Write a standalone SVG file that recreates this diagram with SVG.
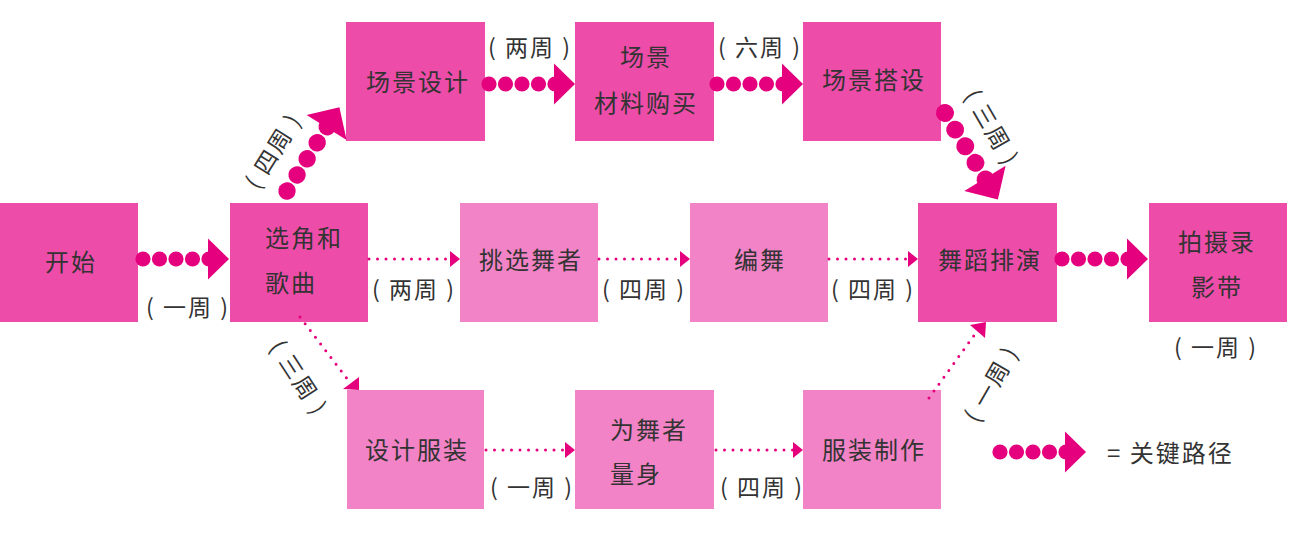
<svg xmlns="http://www.w3.org/2000/svg" xmlns:xlink="http://www.w3.org/1999/xlink" width="1316" height="538" viewBox="0 0 1316 538">
<defs>
<style>
.dk{fill:#EE4CA9}
.lt{fill:#F283C6}
.t{font-family:"Noto Sans CJK SC","Noto Sans",sans-serif;font-size:24px;fill:#333;letter-spacing:2px;dominant-baseline:central}
.m{text-anchor:middle}
.lb{font-family:"Noto Sans CJK SC","Noto Sans",sans-serif;font-size:23px;fill:#333;letter-spacing:2px;dominant-baseline:central;text-anchor:middle}
.dot{stroke:#E5007D;stroke-width:3;stroke-linecap:round;stroke-dasharray:0 8.5;fill:none}
.ah{fill:#E5007D}
</style>
<g id="crit">
<circle cx="0" cy="0" r="7.6" class="ah"/>
<circle cx="16.5" cy="0" r="7.6" class="ah"/>
<circle cx="33" cy="0" r="7.6" class="ah"/>
<circle cx="49.5" cy="0" r="7.6" class="ah"/>
<circle cx="66" cy="0" r="7.6" class="ah"/>
<polygon points="65,-20.5 86,0 65,20.5" class="ah"/>
</g>
</defs>
<rect width="1316" height="538" fill="#fff"/>

<g id="n-start"><rect x="0" y="203" width="138" height="119" class="dk"/><text x="71" y="260" class="t m">开始</text></g>
<g id="n-casting"><rect x="230" y="203" width="138" height="119" class="dk"/><text x="265" y="236" class="t">选角和</text><text x="265" y="281" class="t">歌曲</text></g>
<g id="n-setdesign"><rect x="346" y="22" width="139" height="119" class="dk"/><text x="418" y="80" class="t m">场景设计</text></g>
<g id="n-setbuy"><rect x="575" y="22" width="139" height="119" class="dk"/><text x="646" y="55" class="t m">场景</text><text x="646" y="101" class="t m">材料购买</text></g>
<g id="n-setbuild"><rect x="803" y="22" width="138" height="119" class="dk"/><text x="874" y="78" class="t m">场景搭设</text></g>
<g id="n-dancers"><rect x="460" y="203" width="138" height="119" class="lt"/><text x="531" y="258" class="t m">挑选舞者</text></g>
<g id="n-choreo"><rect x="690" y="203" width="138" height="119" class="lt"/><text x="760" y="258" class="t m">编舞</text></g>
<g id="n-rehearse"><rect x="918" y="203" width="139" height="119" class="dk"/><text x="990" y="258" class="t m">舞蹈排演</text></g>
<g id="n-film"><rect x="1149" y="203" width="138" height="119" class="dk"/><text x="1217" y="240" class="t m">拍摄录</text><text x="1217" y="285" class="t m">影带</text></g>
<g id="n-costdesign"><rect x="347" y="390" width="137" height="119" class="lt"/><text x="417" y="448" class="t m">设计服装</text></g>
<g id="n-measure"><rect x="575" y="390" width="139" height="119" class="lt"/><text x="610" y="428" class="t">为舞者</text><text x="610" y="472" class="t">量身</text></g>
<g id="n-costmake"><rect x="803" y="390" width="138" height="119" class="lt"/><text x="874" y="448" class="t m">服装制作</text></g>

<g id="connectors">
<use xlink:href="#crit" href="#crit" transform="translate(143,259)"/>
<use xlink:href="#crit" href="#crit" transform="translate(489,84)"/>
<use xlink:href="#crit" href="#crit" transform="translate(717,84)"/>
<use xlink:href="#crit" href="#crit" transform="translate(1062,259)"/>
<use xlink:href="#crit" href="#crit" transform="translate(287,191) rotate(-58) scale(1.15)"/>
<use xlink:href="#crit" href="#crit" transform="translate(945,113) rotate(58.6) scale(1.18)"/>

<line x1="369" y1="259" x2="450" y2="259" class="dot"/>
<polygon points="450,251 460,259 450,267" class="ah"/>
<line x1="599" y1="259" x2="680" y2="259" class="dot"/>
<polygon points="680,251 690,259 680,267" class="ah"/>
<line x1="829" y1="259" x2="908" y2="259" class="dot"/>
<polygon points="908,251 918,259 908,267" class="ah"/>
<line x1="486" y1="450" x2="565" y2="450" class="dot"/>
<polygon points="565,442 575,450 565,458" class="ah"/>
<line x1="716" y1="450" x2="793" y2="450" class="dot"/>
<polygon points="793,442 803,450 793,458" class="ah"/>

<line x1="300" y1="317" x2="348" y2="380" class="dot"/>
<polygon points="343,389 359,377 359,390" class="ah"/>
<line x1="929" y1="398" x2="975" y2="334" class="dot"/>
<polygon points="970,325 985,338 986,322" class="ah"/>
</g>

<g id="labels">
<text x="188" y="306" class="lb">( 一周 )</text>
<text x="414" y="288" class="lb">( 两周 )</text>
<text x="644" y="288" class="lb">( 四周 )</text>
<text x="873" y="288" class="lb">( 四周 )</text>
<text x="530" y="46" class="lb">( 两周 )</text>
<text x="760" y="46" class="lb">( 六周 )</text>
<text x="532" y="486" class="lb">( 一周 )</text>
<text x="762" y="486" class="lb">( 四周 )</text>
<text x="1216" y="346" class="lb">( 一周 )</text>
<text x="0" y="0" class="lb" transform="translate(272,150) rotate(-58)">( 四周 )</text>
<text x="0" y="0" class="lb" transform="translate(300,377) rotate(57)">( 三周 )</text>
<text x="0" y="0" class="lb" transform="translate(993,127) rotate(60)">( 三周 )</text>
<text x="0" y="0" class="lb" transform="translate(990,383) rotate(-60)">( 一周 )</text>
</g>

<g id="legend">
<use xlink:href="#crit" href="#crit" transform="translate(1000,452)"/>
<text x="1107" y="451" class="t">=  关键路径</text>
</g>
</svg>
